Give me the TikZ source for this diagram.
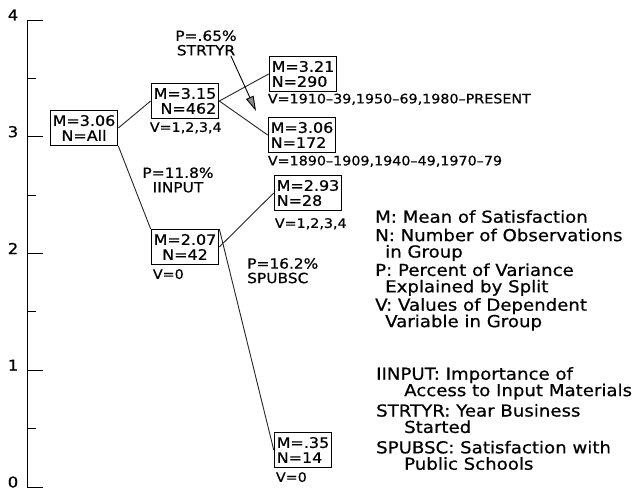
\documentclass[tikz,border=0pt]{standalone}
\usepackage{fontspec}
\setmainfont{DejaVu Sans}[FakeStretch=1.1, FakeBold=0.6]
\usetikzlibrary{arrows.meta, positioning, calc}

\begin{document}
\begin{tikzpicture}[
  x=1pt, y=-1pt,
  box/.style={rectangle, draw, line width=1pt, minimum height=35pt, inner xsep=2.5pt, inner ysep=1pt, align=left, font=\fontsize{14.5}{15}\selectfont},
  vlabel/.style={anchor=north west, inner sep=0pt, font=\fontsize{13}{14}\selectfont},
  plabel/.style={align=center, inner sep=0pt, font=\fontsize{14}{14.5}\selectfont},
  branch/.style={line width=0.9pt, draw=black!85},
  pointer/.style={line width=0.9pt, -{Triangle[length=15pt, width=8pt, fill=black!45]}},
  legend/.style={anchor=north west, align=left, inner sep=0pt, font=\fontsize{16.5}{16.4}\selectfont}
]
  \useasboundingbox (0,0) rectangle (635,491);

  % axis
  \draw[line width=1pt] (27,20) -- (27,487);
  \foreach \v in {0,1,2,3,4} {
    \draw[line width=0.9pt] (27,{487-116.75*\v}) -- (43,{487-116.75*\v});
    \node[font=\fontsize{15}{15}\selectfont, inner sep=0pt] (tick\v) at (13,{482-116.75*\v}) {\v};
  }
  \foreach \v in {0.5,1.5,2.5,3.5}
    \draw[line width=0.9pt] (27,{487-116.75*\v}) -- (36,{487-116.75*\v});

  % groups
  \node[box, align=center] (root) at (84,128) {M=3.06\\N=All};
  \node[box, align=right] (gA) at (185,101) {M=3.15\\N=462};
  \node[box, align=center] (gB) at (185,247) {M=2.07\\N=42};
  \node[box] (gAA) at (303,74) {M=3.21\\N=290};
  \node[box] (gAB) at (302,135) {M=3.06\\N=172};
  \node[box] (gBA) at (308,193) {M=2.93\\N=28};
  \node[box] (gBB) at (303,450) {M=.35\\N=14};

  \node[vlabel] (vA) at ([xshift=-1pt, yshift=-3pt]gA.south west) {V=1,2,3,4};
  \node[vlabel] (vB) at ([xshift=2pt, yshift=-4pt]gB.south west) {V=0};
  \node[vlabel] (vAA) at ([xshift=-1pt, yshift=-1.5pt]gAA.south west) {V=1910--39,1950--69,1980--PRESENT};
  \node[vlabel] (vAB) at ([yshift=-2.5pt]gAB.south west) {V=1890--1909,1940--49,1970--79};
  \node[vlabel] (vBA) at ([xshift=1pt, yshift=-7pt]gBA.south west) {V=1,2,3,4};
  \node[vlabel] (vBB) at ([xshift=2pt, yshift=-4pt]gBB.south west) {V=0};

  % splits
  \draw[branch] (root.east) -- (gA.west);
  \draw[branch] (root.south east) -- (gB.north west);
  \draw[branch] (gA.east) -- (gAA.west);
  \draw[branch] (gA.east) -- (gAB.west);
  \draw[branch] (gB.east) -- (gBA.west);
  \draw[branch] (gB.north east) -- (gBB.west);

  \node[plabel] (splitA) at (206,43) {P=.65\%\\STRTYR};
  \node[plabel] (splitR) at (178,180) {P=11.8\%\\IINPUT};
  \node[plabel, align=left, anchor=north west] (splitB) at (247,258) {P=16.2\%\\SPUBSC};
  \coordinate (splitAtip) at (256,111);
  \draw[pointer] ([xshift=-6pt]splitA.south east) -- (splitAtip);

  % legend
  \node[legend] (keyA) at (375,210) {M: Mean of Satisfaction\\[2pt]
    N: Number of Observations\\\hspace*{10pt}in Group\\[2pt]
    P: Percent of Variance\\\hspace*{10pt}Explained by Split\\[2pt]
    V: Values of Dependent\\\hspace*{10pt}Variable in Group};
  \node[legend] (keyB) at (376,367) {IINPUT: Importance of\\\hspace*{28pt}Access to Input Materials\\[4pt]
    STRTYR: Year Business\\\hspace*{28pt}Started\\[4pt]
    SPUBSC: Satisfaction with\\\hspace*{28pt}Public Schools};
\end{tikzpicture}
\end{document}
